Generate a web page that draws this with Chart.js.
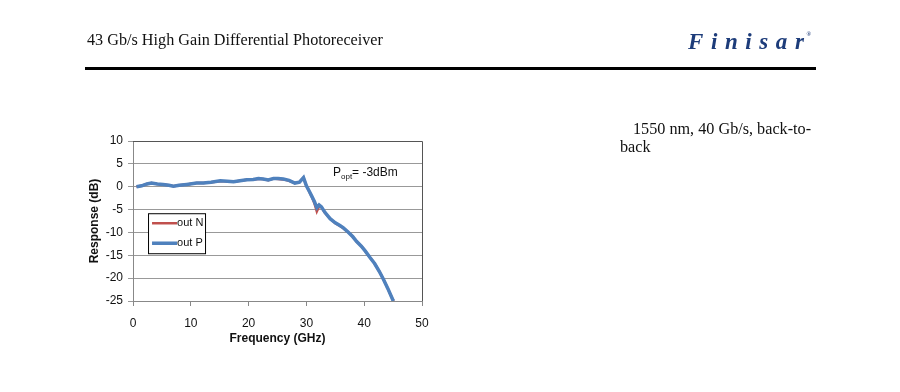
<!DOCTYPE html>
<html>
<head>
<meta charset="utf-8">
<script src="https://cdn.jsdelivr.net/npm/chart.js@4.4.1/dist/chart.umd.min.js"></script>
<style>
    body { margin: 0; background: #fff; width: 900px; height: 392px; position: relative; overflow: hidden; }
    #wrap { position: absolute; left: 0; top: 0; width: 900px; height: 392px; }
    .serif { position: absolute; font-family: "Liberation Serif", "DejaVu Serif", serif; font-size: 16.2px; color: #111; white-space: nowrap; }
    #title { left: 87px; top: 31px; }
    #logo { position: absolute; left: 688px; top: 29px; font-family: "Liberation Serif", serif; font-style: italic; font-weight: bold; font-size: 23px; letter-spacing: 7.6px; color: #1d3c7a; }
    #logo sup { font-size: 6px; letter-spacing: 0; vertical-align: top; position: relative; top: 2px; left: -5px; }
    #rule { position: absolute; left: 85px; top: 67px; width: 731px; height: 3px; background: #000; }
    #note1 { left: 633px; top: 120px; }
    #note2 { left: 620px; top: 138px; }
</style>
</head>
<body>
<div id="wrap"><canvas id="chart" width="900" height="392"></canvas></div>
<div class="serif" id="title">43 Gb/s High Gain Differential Photoreceiver</div>
<div id="logo">Finisar<sup>®</sup></div>
<div id="rule"></div>
<div class="serif" id="note1">1550 nm, 40 Gb/s, back-to-</div>
<div class="serif" id="note2">back</div>
<script>
// Frequency (GHz) sample points
const freq = [0.6, 1.5, 2.4, 3.2, 4.2, 5.2, 6.2, 7.0, 8.0, 9.3, 11.0, 12.2, 13.5, 15.1, 16.3, 17.4, 18.5, 19.7, 20.8, 21.7,
    22.5, 23.4, 24.3, 25.1, 26.0, 27.0, 28.0, 28.8, 29.5, 30.0, 30.5, 30.9, 31.4, 31.8, 32.2, 32.6, 33.2, 34.1, 35.0, 35.8,
    36.4, 37.2, 38.0, 38.7, 39.5, 40.2, 41.0, 41.8, 42.6, 43.3, 44.1, 45.0, 45.2];

// Response (dB)
const outP = [0.0, 0.2, 0.6, 0.8, 0.6, 0.5, 0.3, 0.1, 0.3, 0.5, 0.8, 0.8, 1.0, 1.3, 1.2, 1.1, 1.3, 1.5, 1.6, 1.8,
    1.7, 1.5, 1.8, 1.8, 1.7, 1.4, 0.8, 1.0, 2.0, 0.2, -1.0, -2.0, -3.3, -4.6, -4.0, -4.4, -5.6, -7.0, -7.9, -8.5,
    -9.0, -9.9, -10.9, -12.0, -13.0, -14.1, -15.5, -16.8, -18.5, -20.2, -22.3, -24.9, -25.0];
const outN = [0.0, 0.2, 0.6, 0.8, 0.6, 0.5, 0.3, 0.1, 0.3, 0.5, 0.8, 0.8, 1.0, 1.2, 1.2, 1.1, 1.3, 1.5, 1.6, 1.7,
    1.7, 1.4, 1.8, 1.7, 1.6, 1.3, 0.8, 1.0, 2.0, 0.2, -1.1, -2.1, -3.7, -5.4, -4.3, -4.5, -5.7, -7.0, -8.0, -8.6,
    -9.1, -9.9, -10.9, -12.0, -13.0, -14.1, -15.5, -16.8, -18.5, -20.2, -22.3, -24.9, -25.0];

const xTicks = [0, 10, 20, 30, 40, 50];
const yTicks = [10, 5, 0, -5, -10, -15, -20, -25];
const annotationText = { main: 'P', sub: 'opt', rest: '= -3dBm' };

const tickFont = { family: '"Liberation Sans", Arial, sans-serif', size: 12 };
const titleFont = { family: '"Liberation Sans", Arial, sans-serif', size: 12, weight: 'bold' };

// plot frame (top + right border), legend box, annotation
const extras = {
    id: 'extras',
    afterDraw(chart) {
        const { ctx, chartArea: a, scales } = chart;
        ctx.save();
        ctx.strokeStyle = '#555';
        ctx.lineWidth = 1;
        ctx.beginPath();
        ctx.moveTo(a.left, a.top + 0.5);
        ctx.lineTo(a.right + 0.5, a.top + 0.5);
        ctx.lineTo(a.right + 0.5, a.bottom);
        ctx.stroke();

        // legend
        const lx = scales.x.getPixelForValue(2.6), ly = scales.y.getPixelForValue(-5.8);
        const lw = 57, lh = 40;
        ctx.fillStyle = '#fff';
        ctx.fillRect(lx, ly, lw, lh);
        ctx.strokeStyle = '#000';
        ctx.strokeRect(lx + 0.5, ly + 0.5, lw, lh);
        ctx.font = '11px "Liberation Sans Narrow", "Liberation Sans", Arial, sans-serif';
        ctx.textBaseline = 'middle';
        const items = [chart.data.datasets[0], chart.data.datasets[1]];
        items.forEach((ds, i) => {
            const yy = ly + 10 + i * 20;
            ctx.strokeStyle = ds.borderColor;
            ctx.lineWidth = ds.borderWidth;
            ctx.beginPath();
            ctx.moveTo(lx + 4, yy);
            ctx.lineTo(lx + 29, yy);
            ctx.stroke();
            ctx.fillStyle = '#111';
            ctx.fillText(ds.label, lx + 29, yy);
        });

        // P_opt annotation
        const px = scales.x.getPixelForValue(34.6), py = scales.y.getPixelForValue(2.4);
        ctx.fillStyle = '#111';
        ctx.textBaseline = 'alphabetic';
        ctx.font = '12px "Liberation Sans", Arial, sans-serif';
        ctx.fillText(annotationText.main, px, py);
        let w = ctx.measureText(annotationText.main).width;
        ctx.font = '8px "Liberation Sans", Arial, sans-serif';
        ctx.fillText(annotationText.sub, px + w, py + 3);
        w += ctx.measureText(annotationText.sub).width;
        ctx.font = '12px "Liberation Sans", Arial, sans-serif';
        ctx.fillText(annotationText.rest, px + w, py);
        ctx.restore();
    }
};

new Chart(document.getElementById('chart'), {
    type: 'line',
    data: {
        datasets: [
            {
                label: 'out N',
                data: freq.map((f, i) => ({ x: f, y: outN[i] })),
                borderColor: '#c0504d',
                borderWidth: 2.5,
                pointRadius: 0,
                tension: 0,
                order: 2
            },
            {
                label: 'out P',
                data: freq.map((f, i) => ({ x: f, y: outP[i] })),
                borderColor: '#4f81bd',
                borderWidth: 3.5,
                pointRadius: 0,
                tension: 0,
                order: 1
            }
        ]
    },
    options: {
        responsive: false,
        animation: false,
        layout: { padding: { left: 83, top: 141, right: 478, bottom: 42 } },
        plugins: { legend: { display: false }, tooltip: { enabled: false } },
        scales: {
            x: {
                type: 'linear',
                min: 0, max: 50,
                afterBuildTicks: s => { s.ticks = xTicks.map(v => ({ value: v })); },
                afterFit: s => { s.height = 49; },
                grid: { drawOnChartArea: false, drawTicks: true, tickLength: 5, color: '#888' },
                border: { color: '#888' },
                ticks: { font: tickFont, color: '#111', padding: 10, maxRotation: 0 },
                title: { display: true, text: 'Frequency (GHz)', font: titleFont, color: '#111', padding: { top: 0 } }
            },
            y: {
                min: -25, max: 10,
                afterBuildTicks: s => { s.ticks = yTicks.map(v => ({ value: v })); },
                afterFit: s => { s.width = 50; },
                grid: { color: '#999', tickLength: 5 },
                border: { color: '#888' },
                ticks: { font: tickFont, color: '#111', padding: 5 },
                title: { display: true, text: 'Response (dB)', font: titleFont, color: '#111', padding: { bottom: 0 } }
            }
        }
    },
    plugins: [extras]
});
</script>
</body>
</html>
